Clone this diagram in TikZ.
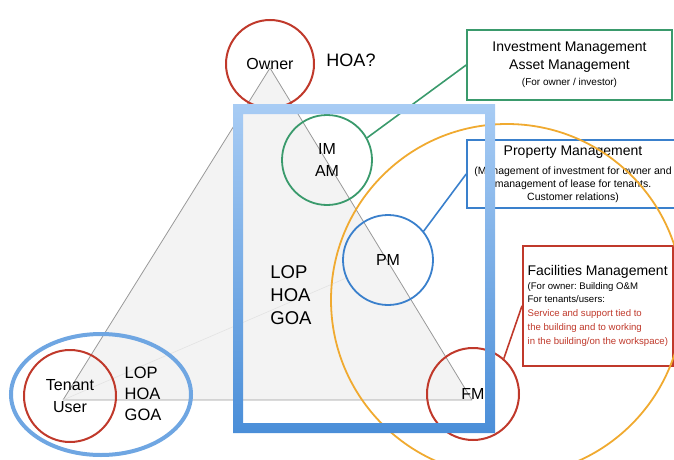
\documentclass[tikz,border=0pt]{standalone}
\usepackage{fontspec}
\setmainfont{Liberation Sans}
\definecolor{cred}{HTML}{C0392B}
\definecolor{cgreen}{HTML}{3A9A6C}
\definecolor{cblue}{HTML}{3A80CC}
\definecolor{corange}{HTML}{F0AA30}
\definecolor{rtop}{HTML}{A8CCF4}
\definecolor{rbot}{HTML}{4A8ED8}
\definecolor{cell}{HTML}{6FA6E2}
\definecolor{ctri}{HTML}{F3F3F3}
\tikzset{
  every picture/.style={x=1pt, y=-1pt, font=\fontsize{16}{22}\selectfont\frenchspacing},
  ring/.style={draw=#1, circle, minimum size=90pt, inner sep=0pt, line width=2pt, align=center},
  triline/.style={draw=gray!80, line width=0.8pt},
  callout/.style={draw=#1, line width=1.6pt, fill=white},
  conn/.style={draw=#1, line width=1.6pt},
  lop/.style 2 args={align=left, font=\fontsize{#1}{#2}\selectfont},
}
\begin{document}
\begin{tikzpicture}
  \useasboundingbox (0,0) rectangle (674,460);
  % owner - tenant - facilities triangle
  \coordinate (ov) at (270,68);
  \coordinate (tv) at (63,400);
  \coordinate (fv) at (472,400);
  \coordinate (pmc) at (388,260);
  \fill[ctri] (ov) -- (tv) -- (fv) -- cycle;
  \draw[triline] (ov) -- (tv) (ov) -- (fv) (tv) -- (fv);
  \draw[gray!22, line width=0.6pt, shorten >=45pt] (tv) -- (pmc);

  \node[ring=cred, minimum size=88pt] (own) at (270,64) {Owner};
  \node[font=\fontsize{18}{22}\selectfont] (hoaq) at (351,60) {HOA?};
  \node[ring=cgreen, line width=1.8pt] (imc) at (327,160) {IM\\AM};
  \node[ring=cblue, line width=1.8pt] (pm) at (pmc) {PM};
  \node[ring=cred, minimum size=92pt] (fmc) at (473,394) {FM};
  \node[ring=cred, minimum size=92pt] (tenc) at (70,396) {Tenant\\User};
  \node[lop={18.5}{23}] (midlop) at (291,295) {LOP\\HOA\\GOA};
  \node[lop={16.5}{21}] (botlop) at (143,394) {LOP\\HOA\\GOA};

  % callouts
  \node[callout=cgreen, minimum width=205pt, minimum height=70pt, align=center,
        font=\fontsize{14}{18}\selectfont] (imbox) at (569.5,65)
    {Investment Management\\Asset Management\\[-2pt]{\fontsize{10}{12}\selectfont (For owner / investor)}};
  \node[callout=cblue, minimum width=212pt, minimum height=68pt, align=center,
        font=\fontsize{10.5}{13}\selectfont] (pmbox) at (573,174)
    {{\fontsize{14}{17}\selectfont Property Management}\\[6pt]
     (Management of investment for owner and\\management of lease for tenants.\\Customer relations)};
  \node[callout=cred, anchor=north west, minimum width=150pt, inner xsep=4pt, minimum height=120pt,
        align=left, font=\fontsize{9.6}{13.8}\selectfont\frenchspacing] (facbox) at (522,245)
    {{\fontsize{14}{17}\selectfont Facilities Management}\\
     (For owner: Building O\&M\\For tenants/users:\\
     {\color{cred}Service and support tied to}\\
     {\color{cred}the building and to working}\\
     {\color{cred}in the building/on the workspace)}};
  \draw[conn=cgreen] (imc.29) -- (imbox.west);
  \draw[conn=cblue] (pm.39) -- (pmbox.west);
  \draw[conn=cred] (fmc.49) -- (facbox.west);

  \draw[corange, line width=1.8pt] (507,300) circle[radius=176pt];
  \shade[top color=rtop, bottom color=rbot, even odd rule]
    (233,104) rectangle (495,433) (243,114) rectangle (485,423);
  \draw[cell, line width=4pt] (101,394.5) ellipse[x radius=90pt, y radius=60.5pt];
\end{tikzpicture}
\end{document}
